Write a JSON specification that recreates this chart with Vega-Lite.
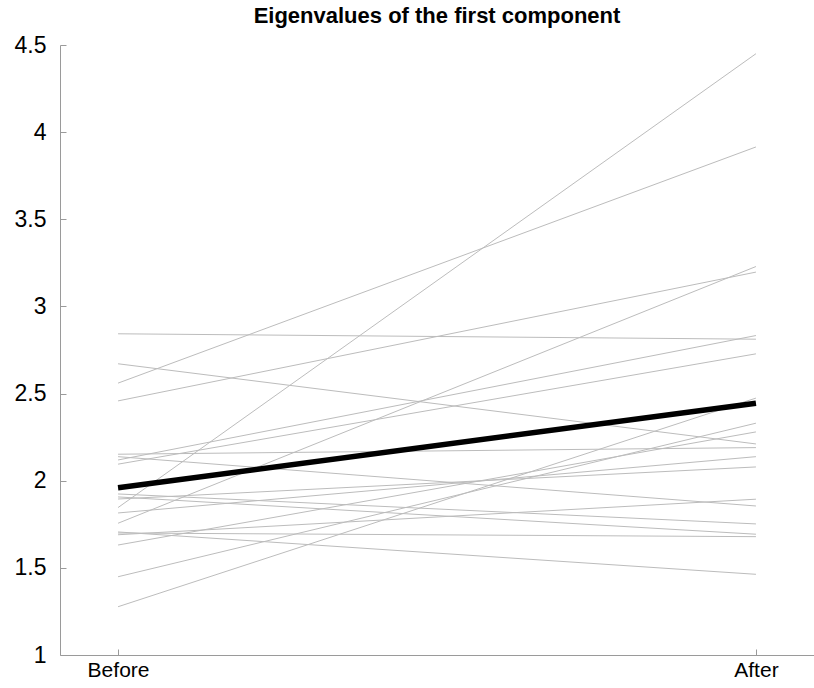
{
  "$schema": "https://vega.github.io/schema/vega-lite/v6.json",
  "width": 754,
  "height": 610,
  "autosize": {"type": "none"},
  "padding": {"left": 60, "top": 45, "right": 0, "bottom": 33},
  "background": "white",
  "config": {
    "view": {"stroke": null},
    "font": "Liberation Sans"
  },
  "title": {
    "text": "Eigenvalues of the first component",
    "font": "Liberation Sans",
    "fontSize": 22,
    "fontWeight": "bold",
    "color": "#000000",
    "anchor": "middle",
    "offset": 6
  },
  "datasets": {
    "subjects": [
      {"id": "s01", "phase": "Before", "value": 2.843}, {"id": "s01", "phase": "After", "value": 2.812},
      {"id": "s02", "phase": "Before", "value": 2.671}, {"id": "s02", "phase": "After", "value": 2.211},
      {"id": "s03", "phase": "Before", "value": 2.560}, {"id": "s03", "phase": "After", "value": 3.915},
      {"id": "s04", "phase": "Before", "value": 2.458}, {"id": "s04", "phase": "After", "value": 3.197},
      {"id": "s05", "phase": "Before", "value": 2.152}, {"id": "s05", "phase": "After", "value": 2.190},
      {"id": "s06", "phase": "Before", "value": 2.138}, {"id": "s06", "phase": "After", "value": 1.855},
      {"id": "s07", "phase": "Before", "value": 2.119}, {"id": "s07", "phase": "After", "value": 2.833},
      {"id": "s08", "phase": "Before", "value": 2.095}, {"id": "s08", "phase": "After", "value": 2.728},
      {"id": "s09", "phase": "Before", "value": 1.924}, {"id": "s09", "phase": "After", "value": 1.752},
      {"id": "s10", "phase": "Before", "value": 1.907}, {"id": "s10", "phase": "After", "value": 1.693},
      {"id": "s11", "phase": "Before", "value": 1.895}, {"id": "s11", "phase": "After", "value": 2.079},
      {"id": "s12", "phase": "Before", "value": 1.846}, {"id": "s12", "phase": "After", "value": 4.450},
      {"id": "s13", "phase": "Before", "value": 1.815}, {"id": "s13", "phase": "After", "value": 2.138},
      {"id": "s14", "phase": "Before", "value": 1.756}, {"id": "s14", "phase": "After", "value": 3.229},
      {"id": "s15", "phase": "Before", "value": 1.690}, {"id": "s15", "phase": "After", "value": 1.894},
      {"id": "s16", "phase": "Before", "value": 1.700}, {"id": "s16", "phase": "After", "value": 1.679},
      {"id": "s17", "phase": "Before", "value": 1.706}, {"id": "s17", "phase": "After", "value": 1.463},
      {"id": "s18", "phase": "Before", "value": 1.631}, {"id": "s18", "phase": "After", "value": 2.280},
      {"id": "s19", "phase": "Before", "value": 1.449}, {"id": "s19", "phase": "After", "value": 2.330},
      {"id": "s20", "phase": "Before", "value": 1.277}, {"id": "s20", "phase": "After", "value": 2.474}
    ],
    "mean": [
      {"phase": "Before", "value": 1.960},
      {"phase": "After", "value": 2.445}
    ]
  },
  "encoding": {
    "x": {
      "field": "phase",
      "type": "ordinal",
      "sort": ["Before", "After"],
      "scale": {"type": "point", "padding": 0.091},
      "axis": {
        "title": null,
        "labelAngle": 0,
        "labelFont": "Liberation Sans",
        "labelFontSize": 21,
        "labelColor": "#000000",
        "labelPadding": 10,
        "domainColor": "#9a9a9a",
        "domainWidth": 1,
        "tickColor": "#9a9a9a",
        "tickSize": -6,
        "grid": false
      }
    },
    "y": {
      "field": "value",
      "type": "quantitative",
      "scale": {"domain": [1, 4.5], "nice": false, "zero": false},
      "axis": {
        "title": null,
        "values": [1, 1.5, 2, 2.5, 3, 3.5, 4, 4.5],
        "labelExpr": "'' + datum.value",
        "labelFont": "Liberation Sans",
        "labelFontSize": 23,
        "labelColor": "#000000",
        "labelPadding": 20,
        "domainColor": "#9a9a9a",
        "domainWidth": 1,
        "tickColor": "#9a9a9a",
        "tickSize": -6,
        "grid": false
      }
    }
  },
  "layer": [
    {
      "data": {"name": "subjects"},
      "mark": {"type": "line", "color": "#bcbcbc", "strokeWidth": 1},
      "encoding": {"detail": {"field": "id"}}
    },
    {
      "data": {"name": "mean"},
      "mark": {"type": "line", "color": "#000000", "strokeWidth": 5.5},
      "encoding": {}
    }
  ]
}
